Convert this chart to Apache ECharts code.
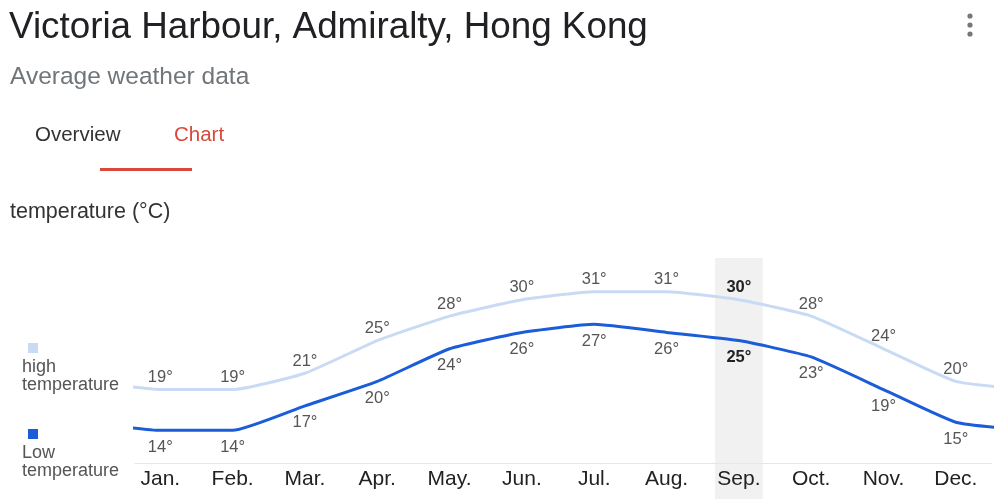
<!DOCTYPE html>
<html>
<head>
<meta charset="utf-8">
<title>Victoria Harbour, Admiralty, Hong Kong</title>
<script src="https://cdn.jsdelivr.net/npm/echarts@6/dist/echarts.min.js"></script>
<style>
  html, body { margin: 0; padding: 0; background: #ffffff; }
  #chart { width: 1000px; height: 499px; }
</style>
</head>
<body>
<div id="chart"></div>
<script>
// Monthly averages for Victoria Harbour (°C)
const months = ['Jan.', 'Feb.', 'Mar.', 'Apr.', 'May.', 'Jun.', 'Jul.', 'Aug.', 'Sep.', 'Oct.', 'Nov.', 'Dec.'];
const highTemps = [19, 19, 21, 25, 28, 30, 31, 31, 30, 28, 24, 20];
const lowTemps = [14, 14, 17, 20, 24, 26, 27, 26, 25, 23, 19, 15];
const selectedMonth = 8; // Sep.

const FONT = '"Liberation Sans", Arial, Helvetica, sans-serif';
const HIGH_COLOR = '#c9dbf4';
const LOW_COLOR = '#1b5cd9';

// Build a series that wraps around the year at both ends so the line
// runs to the plot edges (Dec before Jan, Jan after Dec).
function buildSeriesData(values) {
  const items = values.map((v, i) => {
    const item = { value: [i, v] };
    if (i === selectedMonth) {
      item.label = { fontWeight: 'bold', color: '#222222' };
    }
    return item;
  });
  items.unshift({ value: [-1, values[values.length - 1]], label: { show: false } });
  items.push({ value: [values.length, values[0]], label: { show: false } });
  return items;
}

function lineSeries(name, values, color, labelPos, labelDist, z) {
  return {
    name: name,
    type: 'line',
    smooth: 0.15,
    symbol: 'circle',
    symbolSize: 1,
    showSymbol: true,
    showAllSymbol: true,
    clip: true,
    z: z,
    itemStyle: { color: 'rgba(0,0,0,0)' },
    lineStyle: { color: color, width: 3 },
    label: {
      show: true,
      position: labelPos,
      distance: labelDist,
      formatter: (p) => p.value[1] + '°',
      color: '#555555',
      fontFamily: FONT,
      fontSize: 16.5
    },
    emphasis: { disabled: true },
    data: buildSeriesData(values)
  };
}

const chart = echarts.init(document.getElementById('chart'), null, { renderer: 'canvas' });

chart.setOption({
  animation: false,
  backgroundColor: '#ffffff',
  grid: { left: 135, right: 8, top: 259, bottom: 36 },
  xAxis: {
    type: 'value',
    min: -0.35,
    max: 11.5,
    axisLine: { show: true, lineStyle: { color: '#e6e6e6', width: 1 } },
    axisTick: { show: false },
    splitLine: { show: false },
    axisLabel: {
      customValues: months.map((m, i) => i),
      formatter: (v) => months[Math.round(v)] || '',
      color: '#222222',
      fontFamily: FONT,
      fontSize: 21,
      margin: 6
    }
  },
  yAxis: {
    type: 'value',
    min: 10,
    max: 35,
    show: false,
    splitLine: { show: false }
  },
  series: [
    lineSeries('high temperature', highTemps, HIGH_COLOR, 'top', 3, 3),
    lineSeries('Low temperature', lowTemps, LOW_COLOR, 'bottom', 8, 4)
  ]
});

// Header, tabs, legend and the highlighted month column
const bandLeft = chart.convertToPixel({ xAxisIndex: 0 }, selectedMonth - 0.33);
const bandRight = chart.convertToPixel({ xAxisIndex: 0 }, selectedMonth + 0.33);

function label(x, y, text, color, size, extra) {
  return {
    type: 'text', x: x, y: y, z: 10, silent: true,
    style: Object.assign({
      text: text, fill: color, font: size + 'px ' + FONT,
      verticalAlign: 'middle', align: 'left'
    }, extra || {})
  };
}

chart.setOption({
  graphic: [
    {
      type: 'rect', z: 0, silent: true,
      shape: { x: bandLeft, y: 258, width: bandRight - bandLeft, height: 241 },
      style: { fill: '#f1f1f1' }
    },
    label(9, 28, 'Victoria Harbour, Admiralty, Hong Kong', '#202124', 36.8),
    label(10, 77, 'Average weather data', '#70757a', 24.5),
    { type: 'circle', z: 10, shape: { cx: 970, cy: 16, r: 2.6 }, style: { fill: '#777777' } },
    { type: 'circle', z: 10, shape: { cx: 970, cy: 25, r: 2.6 }, style: { fill: '#777777' } },
    { type: 'circle', z: 10, shape: { cx: 970, cy: 34, r: 2.6 }, style: { fill: '#777777' } },
    label(35, 135, 'Overview', '#333333', 20.5),
    label(174, 135, 'Chart', '#d9483b', 20.5),
    {
      type: 'rect', z: 10,
      shape: { x: 100, y: 168, width: 92, height: 3 },
      style: { fill: '#d9483b' }
    },
    label(10, 212, 'temperature (°C)', '#333333', 21.5),
    {
      type: 'rect', z: 10,
      shape: { x: 28, y: 343, width: 10, height: 10 },
      style: { fill: HIGH_COLOR }
    },
    label(22, 376, 'high\ntemperature', '#555555', 18, { lineHeight: 18 }),
    {
      type: 'rect', z: 10,
      shape: { x: 28, y: 429, width: 10, height: 10 },
      style: { fill: LOW_COLOR }
    },
    label(22, 462, 'Low\ntemperature', '#555555', 18, { lineHeight: 18 })
  ]
});
</script>
</body>
</html>
